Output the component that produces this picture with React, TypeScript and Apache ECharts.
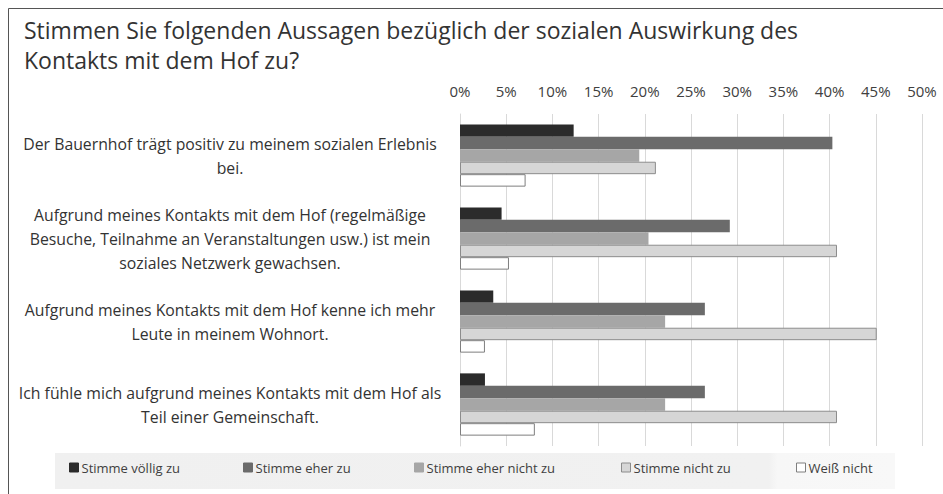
import React, { useEffect, useRef } from "react";
import * as echarts from "echarts";

const categories = [
  "Der Bauernhof trägt positiv zu meinem sozialen Erlebnis\nbei.",
  "Aufgrund meines Kontakts mit dem Hof (regelmäßige\nBesuche, Teilnahme an Veranstaltungen usw.) ist mein\nsoziales Netzwerk gewachsen.",
  "Aufgrund meines Kontakts mit dem Hof kenne ich mehr\nLeute in meinem Wohnort.",
  "Ich fühle mich aufgrund meines Kontakts mit dem Hof als\nTeil einer Gemeinschaft.",
];

const seriesNames = [
  "Stimme völlig zu",
  "Stimme eher zu",
  "Stimme eher nicht zu",
  "Stimme nicht zu",
  "Weiß nicht",
];

const voelligZu = [12.3, 4.5, 3.6, 2.7];
const eherZu = [40.3, 29.2, 26.5, 26.5];
const eherNichtZu = [19.4, 20.4, 22.2, 22.2];
const nichtZu = [21.2, 40.8, 45.1, 40.8];
const weissNicht = [7.1, 5.3, 2.7, 8.1];

const titleText =
  "Stimmen Sie folgenden Aussagen bezüglich der sozialen Auswirkung des\nKontakts mit dem Hof zu?";

const FONT = "'Open Sans', sans-serif";

export default function App() {
  const ref = useRef<HTMLDivElement>(null);
  useEffect(() => {
    if (!ref.current) return;
    const chart = echarts.init(ref.current, undefined, { renderer: "svg" });
    const values = [voelligZu, eherZu, eherNichtZu, nichtZu, weissNicht];
    const fills = ["#2b2b2b", "#6b6b6b", "#a6a6a6", "#d6d6d6", "#ffffff"];
    const borders = ["#2b2b2b", "#6b6b6b", "#a6a6a6", "#8c8c8c", "#7f7f7f"];
    const legendX = [69, 243, 414, 621, 796];

    const series = seriesNames.map((name, i) => ({
      name,
      type: "bar",
      data: values[i],
      barGap: "0%",
      barCategoryGap: "25%",
      itemStyle: {
        color: fills[i],
        borderColor: borders[i],
        borderWidth: i >= 3 ? 1 : 0,
      },
    }));

    const legends = seriesNames.map((name, i) => ({
      data: [name],
      left: legendX[i],
      top: 461,
      itemWidth: 9,
      itemHeight: 9,
      itemGap: 0,
      padding: 0,
      selectedMode: false,
      icon: "rect",
      itemStyle: { borderWidth: 1, borderColor: borders[i] },
      textStyle: { fontFamily: FONT, fontSize: 13, color: "#404040", padding: [0, 0, 0, -2] },
    }));

    chart.setOption({
      animation: false,
      backgroundColor: "#ffffff",
      title: {
        text: titleText,
        left: 19,
        top: 10,
        textStyle: {
          fontFamily: FONT,
          fontSize: 23,
          fontWeight: "normal",
          color: "#333333",
          lineHeight: 30,
        },
      },
      graphic: [
        {
          type: "rect",
          shape: { x: 55, y: 453, width: 840, height: 36 },
          style: {
            fill: {
              type: "linear",
              x: 0,
              y: 0,
              x2: 1,
              y2: 0,
              colorStops: [
                { offset: 0, color: "#f0f0f0" },
                { offset: 0.85, color: "#f1f1f1" },
                { offset: 0.86, color: "#f7f7f7" },
                { offset: 1, color: "#f8f8f8" },
              ],
            },
          },
          z: -1,
        },
        {
          type: "line",
          shape: { x1: 8.5, y1: 8.5, x2: 943, y2: 8.5 },
          style: { stroke: "#555555", lineWidth: 1 },
        },
        {
          type: "line",
          shape: { x1: 8.5, y1: 8.5, x2: 8.5, y2: 494 },
          style: { stroke: "#555555", lineWidth: 1 },
        },
      ],
      legend: legends,
      grid: { left: 460, right: 21, top: 114, bottom: 48, containLabel: false },
      xAxis: {
        type: "value",
        position: "top",
        min: 0,
        max: 50,
        interval: 5,
        axisLine: { show: false },
        axisTick: { show: false },
        splitLine: { show: true, lineStyle: { color: "#d9d9d9", width: 1 } },
        axisLabel: {
          formatter: "{value}%",
          fontFamily: FONT,
          fontSize: 15,
          color: "#404040",
          margin: 16,
        },
      },
      yAxis: {
        type: "category",
        inverse: true,
        data: categories,
        axisLine: { show: true, lineStyle: { color: "#d9d9d9" } },
        axisTick: { show: false },
        axisLabel: {
          align: "center",
          margin: 230,
          fontFamily: FONT,
          fontSize: 15.8,
          lineHeight: 24,
          color: "#333333",
        },
      },
      series,
    });
    return () => chart.dispose();
  }, []);
  return (
    <div
      ref={ref}
      style={{ position: "absolute", left: 0, top: 0, width: 943, height: 494 }}
    />
  );
}
